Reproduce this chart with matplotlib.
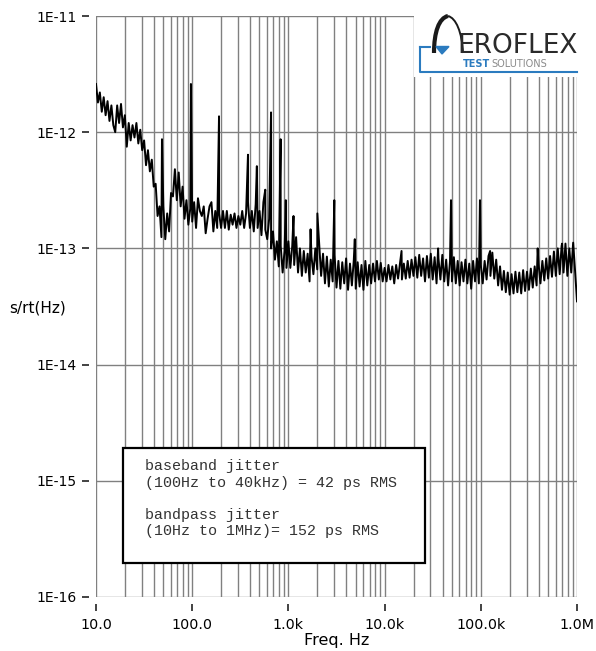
'''
Jitter spectral density plot (s/rt(Hz) vs frequency)
'''

#===============================
import numpy as np
import matplotlib
matplotlib.use("Agg")
import matplotlib.pyplot as plt
from matplotlib.patches import Rectangle, Polygon, PathPatch
from matplotlib.path import Path
from matplotlib.ticker import FixedLocator, FixedFormatter, NullFormatter
#===============================

# trace values in units of 1e-13 s/rt(Hz), 50 samples per decade =========
dec_10_100 = [26, 18, 22, 15, 20, 14, 18.5, 12.5, 17, 11.5,
              10, 17, 12, 17.5, 11, 14, 7.5, 12, 8.5, 11.5,
              9, 12, 8, 10.5, 7, 8.5, 5.2, 7, 4.6, 5.8,
              3.4, 3.6, 1.9, 2.3, 1.25, 2.3, 1.2, 2.0, 1.4, 3.0,
              2.8, 4.8, 2.6, 4.5, 2.3, 3.4, 1.8, 2.6, 1.6, 2.2]
dec_100_1k = [1.7, 2.5, 1.5, 2.7, 2.1, 1.9, 2.3, 1.35, 1.8, 2.3,
              2.5, 1.4, 2.1, 1.5, 2.0, 1.5, 2.1, 1.5, 2.1, 1.45,
              1.95, 1.6, 2.0, 1.5, 1.9, 1.6, 2.1, 1.5, 2.0, 2.5,
              1.5, 2.1, 1.4, 2.4, 1.5, 2.1, 1.3, 2.5, 1.45, 1.2,
              1.8, 1.0, 1.4, 0.8, 1.15, 0.7, 1.05, 0.62, 0.95, 0.68]
dec_1k_10k = [1.15, 0.68, 1.05, 0.72, 1.25, 0.62, 1.0, 0.58, 0.95, 0.62,
              0.9, 0.52, 0.85, 0.6, 1.0, 0.66, 1.1, 0.58, 0.9, 0.5,
              0.85, 0.47, 0.8, 0.52, 0.88, 0.46, 0.78, 0.45, 0.76, 0.5,
              0.82, 0.44, 0.74, 0.48, 0.8, 0.45, 0.76, 0.47, 0.72, 0.44,
              0.78, 0.48, 0.72, 0.5, 0.74, 0.52, 0.78, 0.54, 0.75, 0.52]
dec_10k_100k = [0.68, 0.52, 0.72, 0.54, 0.7, 0.5, 0.72, 0.55, 0.75, 0.54,
                0.74, 0.55, 0.78, 0.56, 0.8, 0.58, 0.84, 0.56, 0.88, 0.58,
                0.82, 0.52, 0.86, 0.56, 0.9, 0.54, 0.84, 0.5, 0.82, 0.54,
                0.88, 0.52, 0.8, 0.48, 0.78, 0.52, 0.84, 0.5, 0.78, 0.48,
                0.76, 0.52, 0.8, 0.5, 0.74, 0.45, 0.78, 0.52, 0.82, 0.5]
dec_100k_1M = [0.72, 0.5, 0.78, 0.54, 0.86, 0.58, 0.92, 0.55, 0.8, 0.48,
               0.7, 0.44, 0.64, 0.42, 0.62, 0.4, 0.6, 0.41, 0.63, 0.42,
               0.62, 0.41, 0.65, 0.43, 0.63, 0.44, 0.67, 0.46, 0.7, 0.48,
               0.74, 0.5, 0.78, 0.53, 0.82, 0.55, 0.86, 0.57, 0.94, 0.58,
               1.0, 0.6, 1.05, 0.62, 1.1, 0.58, 1.0, 0.62, 1.12, 0.64,
               0.35]

# narrow spurs (Hz, 1e-13 s/rt(Hz))
spur_freq = [48.5, 97, 190, 380, 470, 575, 660, 830, 940,
             1130, 1700, 2000, 3000, 4900, 15000, 36000, 49000, 98000,
             125000, 390000, 700000]
spur_val = [8.7, 26, 13.7, 6.4, 5.1, 3.2, 14.8, 8.7, 2.6,
            1.9, 1.46, 2.0, 2.6, 1.2, 0.95, 1.0, 2.6, 2.6,
            0.95, 1.0, 1.1]

xtick_vals = [1e1, 1e2, 1e3, 1e4, 1e5, 1e6]
xtick_labels = ['10.0', '100.0', '1.0k', '10.0k', '100.0k', '1.0M']
ytick_vals = [1e-16, 1e-15, 1e-14, 1e-13, 1e-12, 1e-11]
ytick_labels = ['1E-16', '1E-15', '1E-14', '1E-13', '1E-12', '1E-11']

note = ('baseband jitter\n'
        '(100Hz to 40kHz) = 42 ps RMS\n'
        '\n'
        'bandpass jitter\n'
        '(10Hz to 1MHz)= 152 ps RMS')

# build trace ==============
trace = np.array(dec_10_100 + dec_100_1k + dec_1k_10k + dec_10k_100k + dec_100k_1M)
freq = np.geomspace(10, 1e6, len(trace))
f_all = np.concatenate([freq, spur_freq])
v_all = np.concatenate([trace, spur_val]) * 1e-13
order = np.argsort(f_all)
f_all = f_all[order]
v_all = v_all[order]

# plot ==============
W, H = 596, 651
fig = plt.figure(figsize=(W / 100, H / 100), dpi=100)
ax = fig.add_axes([96 / W, 54 / H, 481 / W, 581 / H])

ax.plot(f_all, v_all, color='black', lw=1.4, zorder=2)
ax.set_xscale('log')
ax.set_yscale('log')
ax.set_xlim(1e1, 1e6)
ax.set_ylim(1e-16, 1e-11)

ax.xaxis.set_major_locator(FixedLocator(xtick_vals))
ax.xaxis.set_major_formatter(FixedFormatter(xtick_labels))
ax.xaxis.set_minor_formatter(NullFormatter())
ax.yaxis.set_major_locator(FixedLocator(ytick_vals))
ax.yaxis.set_major_formatter(FixedFormatter(ytick_labels))
ax.yaxis.set_minor_formatter(NullFormatter())
ax.yaxis.set_minor_locator(FixedLocator([]))

ax.grid(True, which='major', color='#808080', lw=1.0)
ax.grid(True, which='minor', axis='x', color='#808080', lw=1.0)
for gl in ax.get_xgridlines() + ax.get_ygridlines():
    gl.set_clip_on(False)
ax.get_ygridlines()[0].set_visible(False)
ax.set_axisbelow(True)

for s in ax.spines.values():
    s.set_visible(False)
ax.spines['bottom'].set_position(('outward', 5))
ax.spines['left'].set_position(('outward', 5))
ax.tick_params(which='major', direction='out', length=5, width=1.2, color='#222222')
ax.tick_params(which='minor', length=0)
ax.tick_params(axis='y', labelsize=10, pad=4)
ax.tick_params(axis='x', labelsize=10.3, pad=5)

ax.set_xlabel('Freq. Hz', fontsize=11.5, labelpad=1)
fig.text(38 / W, 1 - 308 / H, 's/rt(Hz)', fontsize=11, ha='center', va='center')

# note box ==============
ax.add_patch(Rectangle((0.056, 0.0585), 0.628, 0.198, transform=ax.transAxes,
                       facecolor='white', edgecolor='black', lw=1.6, zorder=4))
ax.text(0.102, 0.237, note, transform=ax.transAxes, family='Liberation Mono',
        fontsize=10.8, color='#333333', va='top', ha='left', linespacing=1.2,
        zorder=5)

# logo ==============
lax = fig.add_axes([414 / W, 1 - 77 / H, 182 / W, 77 / H], zorder=10)
lax.set_xlim(414, 596)
lax.set_ylim(77, 0)
lax.set_facecolor('white')
lax.set_xticks([])
lax.set_yticks([])
for s in lax.spines.values():
    s.set_visible(False)

blue = '#2b7bbf'
left_leg = Path([(434, 53), (434, 32), (439, 18), (448, 16)],
                [Path.MOVETO, Path.CURVE4, Path.CURVE4, Path.CURVE4])
right_leg = Path([(448, 16), (456, 18), (462, 32), (463, 53)],
                 [Path.MOVETO, Path.CURVE4, Path.CURVE4, Path.CURVE4])
lax.add_patch(PathPatch(left_leg, fill=False, lw=3.0, color='#1a1a1a', capstyle='butt'))
lax.add_patch(PathPatch(right_leg, fill=False, lw=1.4, color='#1a1a1a', capstyle='butt'))
lax.add_patch(Polygon([(436, 46.5), (449, 46.5), (442, 54)], closed=True,
                      facecolor=blue, edgecolor=blue))
lax.plot([420, 430], [47, 47], color=blue, lw=1.5)
lax.plot([420, 420, 577], [47, 72, 72], color=blue, lw=1.5)
lax.text(457, 53, 'EROFLEX', fontsize=19, color='#2a2a2a', ha='left', va='baseline')
lax.text(463, 67, 'TEST', fontsize=7, fontweight='bold', color=blue, ha='left', va='baseline')
lax.text(491, 67, 'SOLUTIONS', fontsize=7, color='#8a8a8a', ha='left', va='baseline')

fig.savefig('out.png', dpi=100, facecolor='white')
